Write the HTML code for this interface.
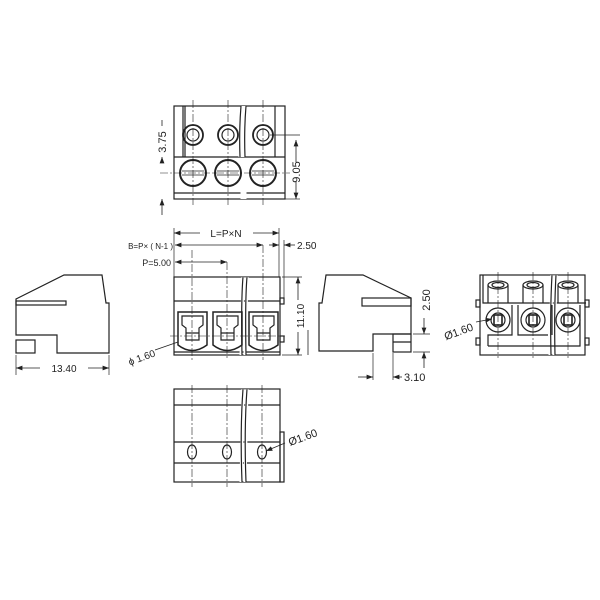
<!DOCTYPE html>
<html><head><style>body{margin:0;background:#fff}svg{display:block}text{font-family:"Liberation Sans",sans-serif;fill:#222}</style></head><body>
<svg width="600" height="600" viewBox="0 0 600 600" xmlns="http://www.w3.org/2000/svg">
<defs><marker id="a" markerWidth="8" markerHeight="6" refX="8" refY="3" orient="auto-start-reverse"><path d="M0,0L8,3L0,6z" fill="#222"/></marker></defs>
<g fill="none" stroke="#222" stroke-width="1.2">
<!-- TOP VIEW -->
<rect x="174" y="106" width="111" height="93"/>
<line x1="174" y1="157" x2="285" y2="157"/>
<line x1="174" y1="193" x2="285" y2="193"/>
<line x1="183" y1="106" x2="183" y2="157"/><line x1="185" y1="106" x2="185" y2="157"/>
<line x1="275" y1="106" x2="275" y2="157"/>
<path d="M242,106 L240,157 M245,106 L243,157 M242,160 V199 M245,160 V199" stroke="#fff" stroke-width="3"/>
<path d="M241,106 Q239,130 240,157 M246,106 Q244,130 245,157"/>
<g stroke-width="1.8"><circle cx="193" cy="135" r="10"/><circle cx="228" cy="135" r="10"/><circle cx="263" cy="135" r="10"/></g>
<circle cx="193" cy="135" r="6"/><circle cx="228" cy="135" r="6"/><circle cx="263" cy="135" r="6"/>
<g stroke-width="2"><circle cx="193" cy="173" r="13"/><circle cx="228" cy="173" r="13"/><circle cx="263" cy="173" r="13"/></g>
<path d="M182,171H204M182,175H204M217,171H239M217,175H239M252,171H274M252,175H274" stroke-width="0.8"/>
<g stroke-width="0.6" stroke-dasharray="8,2,2,2"><line x1="193" y1="100" x2="193" y2="205"/><line x1="228" y1="100" x2="228" y2="205"/><line x1="263" y1="100" x2="263" y2="205"/><line x1="160" y1="173" x2="290" y2="173"/></g>
<line x1="270" y1="135" x2="300" y2="135" stroke-width="0.7"/><line x1="285" y1="199" x2="300" y2="199" stroke-width="0.7"/>
<line x1="296" y1="140" x2="296" y2="162" stroke-width="0.8" marker-start="url(#a)"/><line x1="296" y1="182" x2="296" y2="199" stroke-width="0.8" marker-end="url(#a)"/>
<line x1="162" y1="120" x2="162" y2="126" stroke-width="0.8"/><line x1="162" y1="163" x2="162" y2="157" stroke-width="0.8" marker-end="url(#a)"/>
<line x1="162" y1="215" x2="162" y2="199" stroke-width="0.8" marker-end="url(#a)"/>
<!-- FRONT VIEW -->
<rect x="174" y="277" width="106" height="78"/>
<line x1="174" y1="301" x2="280" y2="301"/>
<line x1="174" y1="352" x2="280" y2="352"/>
<path d="M243,277 L241,355 M247,277 L245,355" stroke="#fff" stroke-width="3"/>
<path d="M243,277 Q241,300 242,355 M247,277 Q245,300 246,355"/>
<rect x="280" y="298" width="4" height="6"/><rect x="280" y="336" width="4" height="6"/>
<g stroke-width="1.5">
<path d="M178,312H207V345Q192,356 178,345Z"/><path d="M213,312H242V345Q227,356 213,345Z"/><path d="M249,312H278V345Q263,356 249,345Z"/>
</g>
<path d="M182,316H203V325L199,328V340H186V328L182,325Z M186,333H199"/>
<path d="M217,316H238V325L234,328V340H221V328L217,325Z M221,333H234"/>
<path d="M253,316H274V325L270,328V340H257V328L253,325Z M257,333H270"/>
<g stroke-width="0.6" stroke-dasharray="8,2,2,2"><line x1="192" y1="250" x2="192" y2="360"/><line x1="227" y1="262" x2="227" y2="360"/><line x1="263" y1="245" x2="263" y2="360"/><line x1="170" y1="336" x2="285" y2="336"/></g>
<g stroke-width="0.7"><line x1="174" y1="228" x2="174" y2="277"/><line x1="279" y1="228" x2="279" y2="277"/><line x1="284" y1="240" x2="284" y2="298"/><line x1="282" y1="277" x2="302" y2="277"/><line x1="282" y1="355" x2="302" y2="355"/></g>
<g stroke-width="0.8">
<line x1="200" y1="233" x2="174" y2="233" marker-end="url(#a)"/><line x1="253" y1="233" x2="279" y2="233" marker-end="url(#a)"/>
<line x1="175" y1="245" x2="263" y2="245" marker-start="url(#a)" marker-end="url(#a)"/>
<line x1="175" y1="262" x2="227" y2="262" marker-start="url(#a)" marker-end="url(#a)"/>
<line x1="269" y1="245" x2="279" y2="245" marker-end="url(#a)"/><line x1="295" y1="245" x2="284" y2="245" marker-end="url(#a)"/>
<line x1="298" y1="300" x2="298" y2="277" marker-end="url(#a)"/><line x1="298" y1="332" x2="298" y2="355" marker-end="url(#a)"/>
<line x1="155" y1="350" x2="178" y2="342"/>
<line x1="308" y1="330" x2="308" y2="355"/>
</g>
<!-- LEFT SIDE -->
<path d="M16,299L64,275H102L106,303H109V353H57V335H16Z"/>
<rect x="16" y="301" width="50" height="4"/>
<rect x="16" y="340" width="19" height="13"/>
<g stroke-width="0.7"><line x1="16" y1="355" x2="16" y2="375"/><line x1="109" y1="355" x2="109" y2="375"/></g>
<line x1="40" y1="368" x2="16" y2="368" stroke-width="0.8" marker-end="url(#a)"/><line x1="88" y1="368" x2="109" y2="368" stroke-width="0.8" marker-end="url(#a)"/>
<!-- RIGHT SIDE -->
<path d="M326,275H363L411,298V334H373V351H319V303H322Z"/>
<rect x="362" y="298" width="49" height="8"/>
<rect x="393" y="334" width="18" height="18"/><line x1="393" y1="342" x2="411" y2="342"/>
<g stroke-width="0.7"><line x1="413" y1="334" x2="430" y2="334"/><line x1="413" y1="352" x2="430" y2="352"/><line x1="373" y1="353" x2="373" y2="380"/><line x1="393" y1="353" x2="393" y2="380"/></g>
<line x1="424" y1="318" x2="424" y2="334" stroke-width="0.8" marker-end="url(#a)"/><line x1="424" y1="368" x2="424" y2="352" stroke-width="0.8" marker-end="url(#a)"/>
<line x1="358" y1="377" x2="373" y2="377" stroke-width="0.8" marker-end="url(#a)"/><line x1="402" y1="377" x2="393" y2="377" stroke-width="0.8" marker-end="url(#a)"/>
<!-- END VIEW -->
<rect x="480" y="275" width="105" height="80"/>
<path d="M483,275V303H586"/>
<rect x="476" y="300" width="4" height="7"/><rect x="476" y="338" width="4" height="7"/><rect x="585" y="300" width="4" height="7"/><rect x="585" y="338" width="4" height="7"/>
<path d="M552,275L550,355M556,275L554,355" stroke="#fff" stroke-width="3"/>
<path d="M552,275Q550,310 551,355M556,275Q554,310 555,355"/>
<g><path d="M488,285V303M508,285V303M523,285V303M543,285V303M558,285V303M578,285V303"/>
<ellipse cx="498" cy="285" rx="10" ry="4"/><ellipse cx="498" cy="285" rx="6" ry="2.5"/>
<ellipse cx="533" cy="285" rx="10" ry="4"/><ellipse cx="533" cy="285" rx="6" ry="2.5"/>
<ellipse cx="568" cy="285" rx="10" ry="4"/><ellipse cx="568" cy="285" rx="6" ry="2.5"/>
<circle cx="498" cy="320" r="12"/><circle cx="533" cy="320" r="12"/><circle cx="568" cy="320" r="12"/>
<circle cx="498" cy="320" r="7"/><circle cx="533" cy="320" r="7"/><circle cx="568" cy="320" r="7"/>
<rect x="494" y="315" width="8" height="10" stroke-width="1.6"/><rect x="529" y="315" width="8" height="10" stroke-width="1.6"/><rect x="564" y="315" width="8" height="10" stroke-width="1.6"/>
<path d="M488,346V335H512V305M518,305V335H548M552,335V305M580,305V346H488"/></g>
<g stroke-width="0.6" stroke-dasharray="8,2,2,2"><line x1="498" y1="272" x2="498" y2="358"/><line x1="533" y1="272" x2="533" y2="358"/><line x1="568" y1="272" x2="568" y2="358"/></g>
<line x1="476" y1="322" x2="492" y2="319" stroke-width="0.8" marker-end="url(#a)"/>
<!-- BOTTOM VIEW -->
<rect x="174" y="389" width="106" height="93"/>
<line x1="174" y1="405" x2="280" y2="405"/><line x1="174" y1="442" x2="280" y2="442"/><line x1="174" y1="463" x2="280" y2="463"/>
<path d="M243,389L241,482M247,389L245,482" stroke="#fff" stroke-width="3"/>
<path d="M243,389Q240,430 242,482M247,389Q244,430 246,482"/>
<rect x="280" y="432" width="4" height="50"/>
<ellipse cx="192" cy="452" rx="4.5" ry="7"/><ellipse cx="227" cy="452" rx="4.5" ry="7"/><ellipse cx="262" cy="452" rx="4.5" ry="7"/>
<g stroke-width="0.6" stroke-dasharray="8,2,2,2"><line x1="192" y1="385" x2="192" y2="487"/><line x1="227" y1="385" x2="227" y2="487"/><line x1="262" y1="385" x2="262" y2="487"/></g>
<line x1="285" y1="443" x2="266" y2="451" stroke-width="0.8" marker-end="url(#a)"/>
</g>
<g font-size="11">
<text x="166" y="142" transform="rotate(-90 166 142)" text-anchor="middle">3.75</text>
<text x="300" y="172" transform="rotate(-90 300 172)" text-anchor="middle">9.05</text>
<text x="226" y="237" text-anchor="middle" font-size="10">L=P×N</text>
<text x="173" y="249" text-anchor="end" font-size="8">B=P× ( N-1 )</text>
<text x="171" y="266" text-anchor="end" font-size="9">P=5.00</text>
<text x="297" y="249" font-size="10">2.50</text>
<text x="304" y="316" transform="rotate(-90 304 316)" text-anchor="middle" font-size="10">11.10</text>
<text x="156" y="356" transform="rotate(-20 156 356)" text-anchor="end" font-size="10">ϕ 1.60</text>
<text x="64" y="372" text-anchor="middle" font-size="10">13.40</text>
<text x="430" y="300" transform="rotate(-90 430 300)" text-anchor="middle">2.50</text>
<text x="404" y="381" font-size="11">3.10</text>
<text x="474" y="330" transform="rotate(-20 474 330)" text-anchor="end">Ø1.60</text>
<text x="290" y="446" transform="rotate(-20 290 446)">Ø1.60</text>
</g>
</svg>
</body></html>
